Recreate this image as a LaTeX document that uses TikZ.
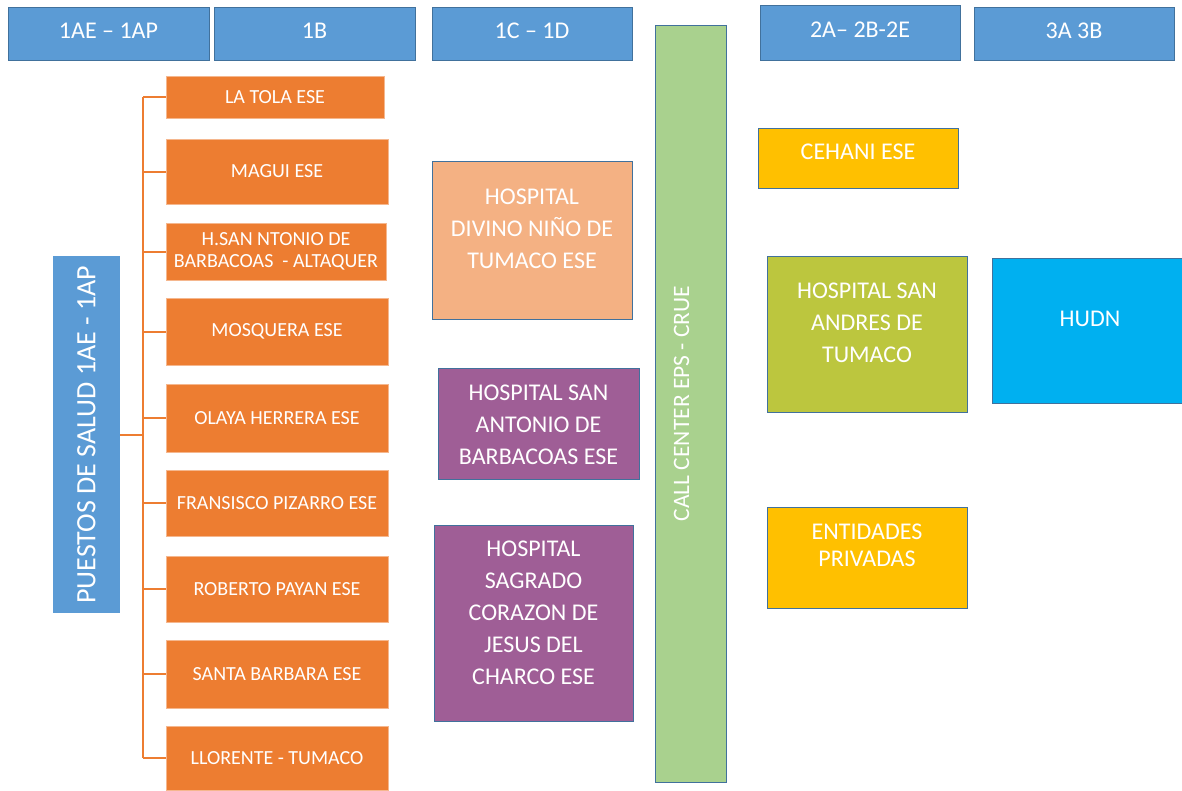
\documentclass[tikz,border=0pt]{standalone}
\usepackage{fontspec}
\setmainfont{Carlito}
\usetikzlibrary{positioning,calc}
\definecolor{tierblue}  {RGB}{ 91,155,213}
\definecolor{edgeblue}  {RGB}{ 65,113,156}
\definecolor{ipsorange} {RGB}{237,125, 49}
\definecolor{peach}     {RGB}{244,177,131}
\definecolor{plum}      {RGB}{159, 94,150}
\definecolor{callgreen} {RGB}{169,209,142}
\definecolor{amber}     {RGB}{255,192,  0}
\definecolor{lime}      {RGB}{188,198, 62}
\definecolor{sky}       {RGB}{  0,176,240}

\begin{document}
\begin{tikzpicture}[
  x=1pt,y=-1pt,
  every node/.style={inner sep=0pt,text=white,align=center},
  tier/.style={fill=tierblue,draw=edgeblue,line width=1pt,minimum height=53pt},
  ips/.style={fill=ipsorange,draw=ipsorange!55!white,line width=1pt,minimum width=222pt,font=\fontsize{20}{22}\selectfont},
  hosp/.style={draw=edgeblue,line width=1pt,minimum width=200pt},
  txt/.style={font=\fontsize{24}{32}\selectfont},
  branch/.style={draw=ipsorange,line width=2pt},
]
  \useasboundingbox (0,0) rectangle (1182,790);

  % Levels of care
  \node[tier,minimum width=201pt] (t1) at (108.5,33.5) {};
  \node[tier,minimum width=201pt] (t2) at (314.5,33.5) {};
  \node[tier,minimum width=200pt] (t3) at (532,33.5) {};
  \node[tier,minimum width=200pt,minimum height=55pt] (t4) at (860,32.5) {};
  \node[tier,minimum width=200pt] (t5) at (1074,33.5) {};
  \node[txt] (t1-t) at ([yshift=3pt]t1.center) {1AE – 1AP};
  \node[txt] (t2-t) at ([yshift=3pt]t2.center) {1B};
  \node[txt] (t3-t) at ([yshift=3pt]t3.center) {1C – 1D};
  \node[txt] (t4-t) at ([yshift=3pt]t4.center) {2A– 2B-2E};
  \node[txt] (t5-t) at ([yshift=3pt]t5.center) {3A 3B};

  % Call center bar
  \node[fill=callgreen,draw=edgeblue,line width=1pt,minimum width=71pt,minimum height=757pt] (call) at (690.5,403.5) {};
  \node[txt,rotate=90,font=\fontsize{23.5}{26}\selectfont] (call-t) at ([xshift=-9pt]call.center) {CALL CENTER EPS - CRUE};

  % Puestos de salud
  \node[fill=tierblue,minimum width=67pt,minimum height=357pt] (puestos) at (86.5,434.5) {};
  \node[txt,rotate=90,font=\fontsize{28}{30}\selectfont] (puestos-t) at (puestos.center) {PUESTOS DE SALUD 1AE - 1AP};

  % 1B sites
  \node[ips,minimum width=218pt,minimum height=42pt] (latola) at (275,97) {LA TOLA ESE};
  \node[ips,minimum height=65pt] (magui) at (277,171.5) {MAGUI ESE};
  \node[ips,minimum width=220pt,minimum height=57pt] (hsan) at (276,251.5) {H.SAN NTONIO DE\\BARBACOAS \ - ALTAQUER};
  \node[ips,minimum height=67pt] (mosquera) at (277,331.5) {MOSQUERA ESE};
  \node[ips,minimum height=68pt] (olaya) at (277,418) {OLAYA HERRERA ESE};
  \node[ips,minimum height=66pt] (pizarro) at (277,503) {FRANSISCO PIZARRO ESE};
  \node[ips,minimum height=66pt] (payan) at (277,589) {ROBERTO PAYAN ESE};
  \node[ips,minimum height=68pt] (barbara) at (277,674) {SANTA BARBARA ESE};
  \node[ips,minimum height=64pt] (llorente) at (277,758) {LLORENTE - TUMACO};

  \coordinate (trunk) at (143,434.5);
  \draw[branch] (puestos.east) -- (trunk);
  \draw[branch] (latola.west -| trunk) -- (llorente.west -| trunk);
  \foreach \s in {latola,magui,hsan,mosquera,olaya,pizarro,payan,barbara,llorente}
    \draw[branch] (\s.west -| trunk) -- (\s.west);

  % 1C - 1D hospitals
  \node[hosp,fill=peach,minimum height=158pt] (divino) at (532,240) {};
  \node[txt] (divino-t) at ([yshift=11pt]divino.center) {HOSPITAL\\DIVINO NIÑO DE\\TUMACO ESE};
  \node[hosp,fill=plum,minimum width=201pt,minimum height=111pt] (antonio) at (538.5,423.5) {};
  \node[txt] (antonio-t) at ([yshift=-1pt]antonio.center) {HOSPITAL SAN\\ANTONIO DE\\BARBACOAS ESE};
  \node[hosp,fill=plum,minimum width=199pt,minimum height=196pt] (sagrado) at (533.5,623) {};
  \node[txt] (sagrado-t) at ([yshift=10pt]sagrado.center) {HOSPITAL\\SAGRADO\\CORAZON DE\\JESUS DEL\\CHARCO ESE};

  % 2nd and 3rd level
  \node[hosp,fill=amber,minimum height=60pt] (cehani) at (858,158) {};
  \node[txt] (cehani-t) at ([yshift=6pt]cehani.center) {CEHANI ESE};
  \node[hosp,fill=lime,minimum height=156pt] (andres) at (867,334) {};
  \node[txt] (andres-t) at ([yshift=11pt]andres.center) {HOSPITAL SAN\\ANDRES DE\\TUMACO};
  \node[hosp,fill=sky,minimum width=196pt,minimum height=145pt] (hudn) at (1090,330.5) {};
  \node[txt] (hudn-t) at ([yshift=12pt]hudn.center) {HUDN};
  \node[hosp,fill=amber,minimum height=101pt] (privadas) at (867,557.5) {};
  \node[txt,font=\fontsize{24}{27}\selectfont] (privadas-t) at ([yshift=12.5pt]privadas.center) {ENTIDADES\\PRIVADAS};

\end{tikzpicture}
\end{document}
